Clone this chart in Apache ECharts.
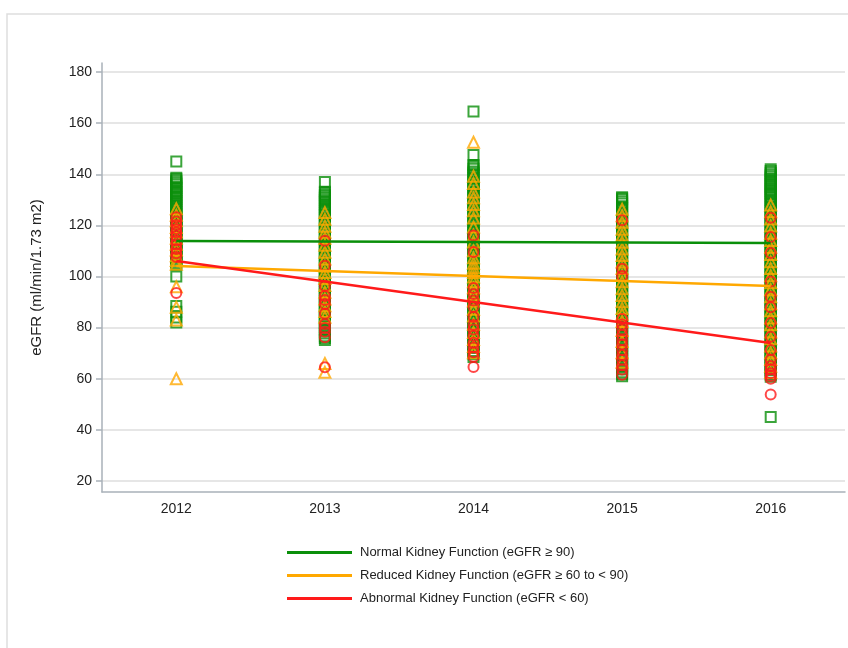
<!DOCTYPE html>
<html>
<head>
	<meta charset="UTF-8">
	<title>eGFR by year</title>
	<script src="https://cdn.jsdelivr.net/npm/echarts@6/dist/echarts.min.js"></script>
</head>
<body style="margin:0;background:#fff;">
<div id="main" style="width:848px;height:648px;"></div>
<script type="text/javascript">
	var years = ['2012', '2013', '2014', '2015', '2016'];
	var yTicks = [20, 40, 60, 80, 100, 120, 140, 160, 180];

	// trend lines: value at 2012 and at 2016
	var normalTrend = [113.9, 113.1];
	var reducedTrend = [104.1, 96.3];
	var abnormalTrend = [106.1, 74.0];

	// observations, one list per year
	var normalObs = [
		[145, 138.6, 138.1, 137.5, 136.8, 136.1, 135.2, 134.6, 133.6, 133.1, 132.5, 131.7, 131.1, 130.3, 129.5, 128.7, 128.1, 127.6, 126.8, 126.2, 125.3, 124.6, 123.9, 123.3, 122.7, 122, 121.4, 120.9, 120.4, 119.7, 119, 118.4, 117.9, 117.2, 116.5, 116, 115.5, 114.8, 114.1, 113.6, 113.1, 112.4, 111.8, 111.2, 110.7, 110, 109.4, 108.8, 108.3, 107.6, 107, 106.4, 105.9, 105.2, 104.5, 100, 88.5, 86.2, 84, 82],
		[137, 133.2, 132.6, 131.9, 131.3, 130.7, 129.9, 129.2, 128.2, 127.4, 126.6, 126.1, 125.5, 124.8, 124.1, 122.9, 122.2, 121.4, 120.3, 119.5, 118.8, 117.7, 117.1, 116.3, 115.1, 114.4, 113.6, 112.6, 111.9, 111.1, 109.9, 109.2, 108.4, 107.4, 106.7, 105.9, 104.8, 104.1, 103.3, 102.2, 101.5, 100.8, 99.7, 99, 98.2, 97.1, 96.4, 95.7, 94.6, 93.9, 93.1, 92, 91.3, 90.5, 89.5, 88.8, 88, 86.9, 86.2, 85.4, 84.3, 83.6, 82.9, 81.8, 81.1, 80.3, 79.2, 78.5, 77.7, 76.6, 75.9, 75.2],
		[164.5, 147.5, 143.6, 142.9, 142.2, 141.1, 140.4, 139.6, 138.5, 137.8, 137, 135.9, 135.2, 134.4, 133.3, 132.6, 131.8, 130.7, 130, 129.2, 128.1, 127.4, 126.6, 125.5, 124.8, 124, 122.9, 122.2, 121.4, 120.3, 119.6, 118.8, 117.7, 117, 116.2, 115.1, 114.4, 113.6, 112.5, 111.8, 111, 109.9, 109.2, 108.4, 107.3, 106.6, 105.8, 104.7, 104, 103.2, 102.1, 101.4, 100.6, 99.5, 98.8, 98, 96.9, 96.2, 95.4, 94.3, 93.6, 92.8, 91.7, 91, 90.2, 89.1, 88.4, 87.6, 86.5, 85.8, 85, 83.9, 83.2, 82.4, 81.3, 80.6, 79.8, 78.7, 78, 77.2, 76.1, 75.4, 74.6, 73.5, 72.8, 72, 70.9, 70.2, 69.6, 68.5],
		[131, 130.6, 130.1, 129.3, 128.6, 127.5, 126.8, 126, 124.9, 124.2, 123.4, 122.3, 121.6, 120.8, 119.7, 119, 118.2, 117.1, 116.4, 115.6, 114.5, 113.8, 113, 111.9, 111.2, 110.4, 109.3, 108.6, 107.8, 106.7, 106, 105.2, 104.1, 103.4, 102.6, 101.5, 100.8, 100, 98.9, 98.2, 97.4, 96.3, 95.6, 94.8, 93.7, 93, 92.2, 91.1, 90.4, 89.6, 88.5, 87.8, 87, 85.9, 85.2, 84.4, 83.3, 82.6, 81.8, 80.7, 80, 79.2, 78.1, 77.4, 76.6, 75.5, 74.8, 74, 72.9, 72.2, 71.4, 70.3, 69.6, 68.8, 67.7, 67, 66.2, 65.1, 64.4, 63.6, 62.5, 61.8, 61],
		[142, 141.3, 140.6, 139.8, 139.1, 138.3, 137.6, 136.9, 136.2, 135.5, 134.8, 134.1, 133.5, 132.9, 132.3, 131.6, 130.9, 129.8, 129.1, 128.4, 127.3, 126.6, 125.8, 124.7, 124, 123.2, 122.1, 121.4, 120.6, 119.5, 118.8, 118, 116.9, 116.2, 115.4, 114.3, 113.6, 112.8, 111.7, 111, 110.2, 109.1, 108.4, 107.6, 106.5, 105.8, 105, 103.9, 103.2, 102.4, 101.3, 100.6, 99.8, 98.7, 98, 97.2, 96.1, 95.4, 94.6, 93.5, 92.8, 92, 90.9, 90.2, 89.4, 88.3, 87.6, 86.8, 85.7, 85, 84.2, 83.1, 82.4, 81.6, 80.5, 79.8, 79, 77.9, 77.2, 76.4, 75.3, 74.6, 73.8, 72.7, 72, 71.2, 70.1, 69.4, 68.6, 67.5, 66.8, 66, 64.9, 64.2, 63.4, 62.3, 61.6, 60.8, 45]
	];
	var reducedObs = [
		[126.5, 124, 121.8, 119.2, 117.5, 115, 112.6, 110.4, 108.1, 106.3, 104.8, 96, 88, 83, 60],
		[125, 122.4, 119.7, 117.3, 115, 112.2, 109.5, 106.8, 104.1, 101.6, 99.2, 96.5, 93.8, 91.2, 88.6, 86.3, 84.1, 66, 62.5],
		[152.5, 139.2, 136.4, 133.1, 130.8, 128.2, 125.7, 122.9, 119.4, 116.2, 113.5, 110.1, 107.3, 105.2, 103.4, 101.6, 99.8, 97.9, 95.6, 93.1, 90.4, 87.2, 84.5, 81.3, 78.1, 75.4, 72.6, 70.2],
		[126.3, 123.8, 121.2, 118.5, 116.1, 113.4, 110.8, 108.2, 105.7, 103.1, 100.4, 97.9, 95.2, 92.6, 90.1, 87.5, 85.2, 82.4, 78.9, 74.6, 70.2, 66.5],
		[128, 125.3, 122.5, 119.8, 116.9, 114.1, 111.4, 108.6, 105.8, 103.1, 100.3, 97.6, 94.8, 92.1, 89.3, 86.6, 83.8, 81.1, 78.3, 75.6, 72.8, 70.2, 67.5, 64.9, 62.4]
	];
	var abnormalObs = [
		[123.2, 121.5, 120.1, 118.6, 117.2, 115.8, 114.1, 112.5, 110.8, 109.1, 107.6, 93.5],
		[114, 104.2, 96.3, 92.4, 90.8, 89.2, 85.4, 81.3, 79.9, 78.4, 76.2, 64.5],
		[116, 109.6, 95.5, 93.2, 90.6, 88.1, 84.2, 81, 79.3, 76.8, 74.1, 72.2, 70.4, 68.6, 64.6],
		[122, 103, 100.2, 83.4, 81.2, 79.3, 77.1, 75.2, 73.4, 71.2, 69.3, 67.4, 65.3, 63.6, 61.6],
		[123, 115.5, 109.2, 98, 92.1, 88, 81.8, 76.4, 71.2, 67.4, 65, 63.6, 62.2, 61.1, 60, 53.8]
	];

	var names = [
		'Normal Kidney Function (eGFR \u2265 90)',
		'Reduced Kidney Function (eGFR \u2265 60 to < 90)',
		'Abnormal Kidney Function (eGFR < 60)'
	];
	var colors = ['#0a8f0a', '#ffa800', '#ff1a1a'];
	var font = 'Liberation Sans, Arial, sans-serif';

	function toPoints(obs) {
		var pts = [];
		obs.forEach(function(list, i) {
			list.forEach(function(v) { pts.push([years[i], v]); });
		});
		return pts;
	}
	function scatter(name, obs, symbol, color) {
		return {
			name: name,
			type: 'scatter',
			xAxisIndex: 1,
			yAxisIndex: 1,
			symbol: symbol,
			symbolSize: symbol === 'triangle' ? 11 : 10,
			itemStyle: { color: 'rgba(0,0,0,0)', borderColor: color, borderWidth: 2 },
			data: toPoints(obs)
		};
	}
	function trend(name, vals, color) {
		return {
			name: name,
			type: 'line',
			xAxisIndex: 1,
			yAxisIndex: 1,
			symbol: 'none',
			lineStyle: { color: color, width: 2.5 },
			itemStyle: { color: color },
			data: [[years[0], vals[0]], [years[years.length - 1], vals[1]]],
			z: 5
		};
	}

	var myChart = echarts.init(document.getElementById('main'));
	var option = {
		animation: false,
		backgroundColor: '#fff',
		graphic: [{
			type: 'rect',
			shape: { x: 7, y: 14, width: 900, height: 700 },
			style: { fill: 'none', stroke: '#dedede', lineWidth: 1.5 },
			silent: true
		}],
		legend: {
			data: names,
			orient: 'vertical',
			left: 282,
			top: 540,
			icon: 'rect',
			itemWidth: 65,
			itemHeight: 3,
			itemGap: 8,
			textStyle: { fontFamily: font, fontSize: 13, color: '#222', lineHeight: 15, padding: [0, 0, 0, 3] }
		},
		grid: [
			{ left: 102, right: 3, top: 63, bottom: 156 },
			{ left: 102, right: 3, top: 72, bottom: 167 }
		],
		xAxis: [{
			type: 'category',
			gridIndex: 0,
			data: years,
			boundaryGap: true,
			axisLine: { lineStyle: { color: '#a9b1b9', width: 1.5 } },
			axisTick: { alignWithLabel: true, length: 6, lineStyle: { color: '#a9b1b9', width: 1.5 } },
			axisLabel: { fontFamily: font, fontSize: 14, color: '#222', margin: 10 }
		}, {
			type: 'category',
			gridIndex: 1,
			data: years,
			boundaryGap: true,
			show: false
		}],
		yAxis: [{
			type: 'value',
			gridIndex: 0,
			min: 15.7,
			max: 183.5,
			axisLine: { show: true, lineStyle: { color: '#a9b1b9', width: 1.5 } },
			axisTick: { show: false },
			axisLabel: { show: false },
			splitLine: { show: false },
			name: 'eGFR (ml/min/1.73 m2)',
			nameLocation: 'middle',
			nameGap: 58,
			nameTextStyle: { fontFamily: font, fontSize: 15, color: '#222' }
		}, {
			type: 'value',
			gridIndex: 1,
			min: yTicks[0],
			max: yTicks[yTicks.length - 1],
			interval: 20,
			axisLine: { show: false },
			axisTick: { show: true, length: 6, lineStyle: { color: '#a9b1b9', width: 1.5 } },
			axisLabel: { fontFamily: font, fontSize: 14, color: '#222', margin: 10 },
			splitLine: { lineStyle: { color: '#e6e6e6', width: 2 } }
		}],
		series: [
			scatter('normal obs', normalObs, 'rect', colors[0]),
			scatter('reduced obs', reducedObs, 'triangle', colors[1]),
			scatter('abnormal obs', abnormalObs, 'circle', colors[2]),
			trend(names[0], normalTrend, colors[0]),
			trend(names[1], reducedTrend, colors[1]),
			trend(names[2], abnormalTrend, colors[2])
		]
	};
	myChart.setOption(option);
</script>
</body>
</html>
